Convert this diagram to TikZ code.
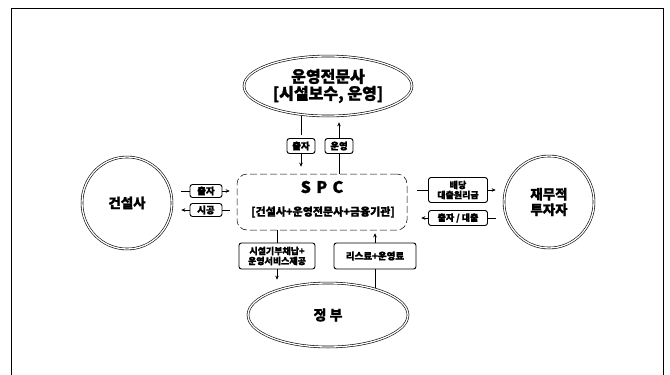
\documentclass[tikz,border=0pt]{standalone}
\usepackage{fontspec}
\setmainfont{Noto Sans CJK KR}[BoldFeatures={FakeBold=1.2}]
\usetikzlibrary{shapes.geometric,arrows.meta}
\tikzset{
  party/.style={ellipse, draw, double, double distance=1.3pt, line width=0.6pt, inner sep=0pt, font=\bfseries},
  lbl/.style={draw, rounded corners=2.5pt, line width=0.9pt, inner sep=1pt, font=\bfseries\fontsize{9.5}{11}\selectfont, align=center},
  spcbox/.style={draw, dashed, dash pattern=on 7pt off 3pt, line width=0.5pt, rounded corners=10pt, align=center},
  link/.style={line width=0.6pt},
  arr/.style={line width=0.6pt, -{Stealth[length=4pt,width=3.5pt]}}
}
\begin{document}
\begin{tikzpicture}[x=1pt,y=-1pt]
\useasboundingbox (0,0) rectangle (670,375);
\draw[line width=0.9pt] (11,380) -- (11,8) -- (663,8) -- (663,380);

% parties
\node[party, minimum width=168pt, minimum height=60pt, align=center, font=\bfseries\fontsize{16}{17}\selectfont] (ops) at (328,86) {운영전문사\\{[}시설보수, 운영{]}};
\node[party, minimum width=90pt, minimum height=92pt, font=\bfseries\fontsize{13.5}{15}\selectfont] (con) at (127,203) {건설사};
\node[party, minimum width=90pt, minimum height=92pt, align=center, font=\bfseries\fontsize{13.5}{15.5}\selectfont] (inv) at (549,202) {재무적\\투자자};
\node[party, minimum width=160pt, minimum height=64pt, font=\bfseries\fontsize{14}{16}\selectfont] (gov) at (328,315) {정\ 부};

% SPC
\node[spcbox, minimum width=170pt, minimum height=56pt] (spc) at (322,202) {};
\node[font=\bfseries\fontsize{16}{18}\selectfont] (spct) at (322,187) {S\,\,P\,\,C};
\node[font=\bfseries\fontsize{11}{13}\selectfont] (spcs) at (323,212) {{[}건설사+운영전문사+금융기관{]}};

% labels
\node[lbl, minimum width=28pt, minimum height=15pt] (t1) at (301,146) {출자};
\node[lbl, minimum width=28pt, minimum height=15pt] (t2) at (339,146) {운영};
\node[lbl, minimum width=32pt, minimum height=13pt] (l1) at (206,191) {출자};
\node[lbl, minimum width=32pt, minimum height=13pt] (l2) at (206,210) {시공};
\node[lbl, minimum width=59pt, minimum height=25pt, font=\bfseries\fontsize{9}{10}\selectfont] (r1) at (458,190) {배당\\대출원리금};
\node[lbl, minimum width=59pt, minimum height=15pt, font=\bfseries\fontsize{9}{10}\selectfont] (r2) at (458,218) {출자 / 대출};
\node[lbl, minimum width=76pt, minimum height=26pt, font=\bfseries\fontsize{9}{10}\selectfont] (b1) at (277,256) {시설기부채납+\\운영서비스제공};
\node[lbl, minimum width=82pt, minimum height=26pt] (b2) at (375,256) {리스료+운영료};

% top connectors
\draw[link, shorten <=3pt] (t1.north) -- (t1.north |- ops.south);
\draw[arr, shorten >=7pt] (t1.south) -- (t1.south |- spc.north);
\draw[arr, shorten >=6pt] (t2.north) -- (t2.north |- ops.south);
\draw[link] (t2.south) -- (t2.south |- spc.north);

% left connectors
\draw[link, shorten >=9pt] (l1.west) -- (l1.west -| con.east);
\draw[arr, shorten >=7pt] (l1.east) -- (l1.east -| spc.west);
\draw[link, shorten >=7pt] (l2.east) -- (l2.east -| spc.west);
\draw[arr, shorten >=9pt] (l2.west) -- (l2.west -| con.east);

% right connectors
\draw[link, shorten >=10pt] (r1.west) -- (r1.west -| spc.east);
\draw[arr, shorten >=8pt] (r1.east) -- (r1.east -| inv.west);
\draw[link, shorten >=8pt] (r2.east) -- (r2.east -| inv.west);
\draw[arr, shorten >=14pt] (r2.west) -- (r2.west -| spc.east);

% bottom connectors
\draw[link] (b1.north) -- (b1.north |- spc.south);
\draw[arr, shorten >=3pt] (b1.south) -- (b1.south |- gov.north);
\draw[arr, shorten >=3pt] (b2.north) -- (b2.north |- spc.south);
\draw[link, shorten >=-5pt] (b2.south) -- (b2.south |- gov.north);
\end{tikzpicture}
\end{document}
